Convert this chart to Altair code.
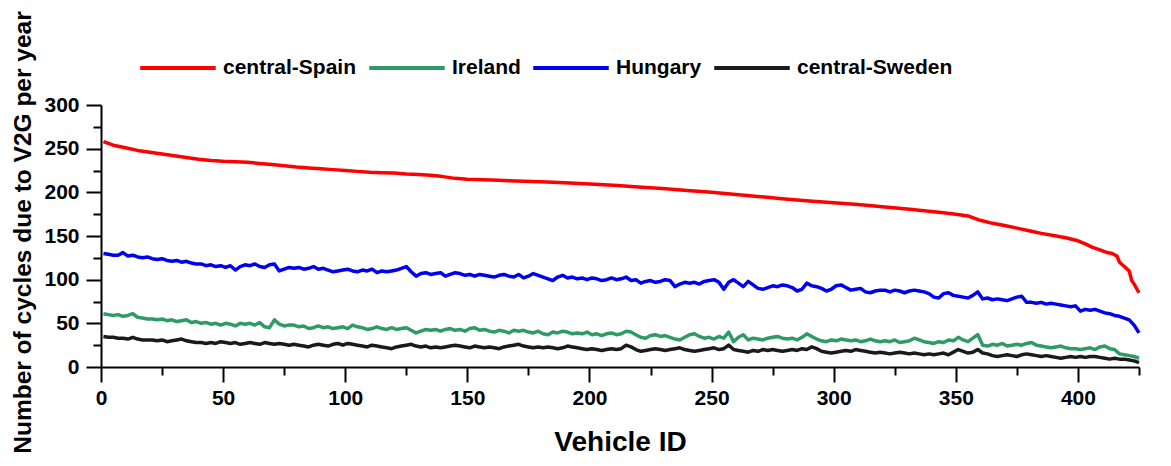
import altair as alt
import pandas as pd

series_names = ["central-Spain", "Ireland", "Hungary", "central-Sweden"]
series_colors = ["#ff0000", "#2e9a66", "#0000f0", "#1a1a1a"]

# central-Spain (smooth curve) sampled at these vehicle IDs
spain_ids = [1, 3, 5, 10, 15, 20, 25, 30, 35, 40, 45, 50, 55, 60, 65, 70, 75, 80, 85, 90,
             95, 100, 105, 110, 115, 120, 125, 130, 135, 140, 145, 150, 160, 170, 180, 190,
             200, 210, 220, 230, 240, 250, 260, 270, 280, 290, 300, 310, 320, 330, 340, 345,
             350, 355, 358, 360, 365, 370, 375, 380, 385, 390, 395, 400, 403, 406, 409, 412,
             414, 416, 417, 419, 421, 422, 423, 425]
spain = [258, 256, 254, 251, 248, 246, 244, 242, 240, 238, 236.5, 235.5, 235, 234.5, 233,
         232, 230.5, 229, 228, 227, 226, 225, 224, 223, 222.5, 222, 221, 220.5, 219.5, 218,
         216, 215, 214, 213, 212, 211, 209.5, 208, 206, 204.5, 202, 200, 197.5, 195, 192.5,
         190, 188, 186, 183.5, 181, 178, 176.5, 175, 173, 170, 168, 164.5, 162, 159, 156, 153,
         150.5, 148, 144.5, 141, 137, 134, 131, 130, 127, 120, 115, 110, 99, 95, 85]

# other series, every second vehicle ID (1, 3, 5, ..., 425)
noisy_ids = list(range(1, 426, 2))
hungary = [
    130, 129, 128, 128, 131, 127, 128, 126, 125, 126,
    124, 123, 124, 122, 121, 122, 120, 121, 119, 118,
    118, 116, 117, 115, 116, 114, 116, 111, 115, 117,
    116, 118, 115, 114, 117, 118, 110, 112, 114, 113,
    114, 112, 113, 115, 112, 113, 111, 109, 110, 111,
    112, 110, 109, 111, 110, 112, 108, 110, 109, 110,
    111, 113, 115, 109, 104, 107, 108, 106, 107, 108,
    104, 106, 108, 107, 105, 106, 104, 106, 105, 104,
    103, 105, 106, 104, 103, 106, 102, 104, 107, 105,
    103, 101, 99, 103, 105, 102, 103, 101, 102, 100,
    102, 101, 99, 100, 102, 100, 101, 103, 99, 100,
    96, 98, 99, 97, 98, 100, 99, 92, 95, 97,
    96, 97, 95, 98, 99, 100, 97, 89, 97, 100,
    96, 92, 98, 94, 90, 89, 91, 93, 92, 94,
    93, 91, 87, 89, 96, 93, 92, 90, 87, 89,
    93, 94, 91, 88, 89, 90, 86, 85, 87, 88,
    88, 86, 88, 87, 85, 87, 88, 87, 86, 84,
    80, 79, 84, 85, 82, 81, 80, 79, 82, 86,
    78, 79, 77, 78, 77, 76, 78, 80, 81, 74,
    74, 73, 74, 72, 73, 72, 71, 70, 69, 70,
    64, 66, 65, 66, 64, 62, 61, 59, 58, 56,
    54, 48, 39]
ireland = [
    61, 60, 59, 60, 58, 59, 61, 57, 56, 55,
    55, 54, 55, 53, 54, 52, 53, 54, 51, 52,
    50, 51, 49, 50, 48, 50, 49, 47, 50, 49,
    50, 48, 51, 46, 45, 54, 49, 47, 48, 48,
    46, 47, 44, 45, 47, 45, 46, 44, 45, 46,
    44, 48, 46, 45, 43, 44, 46, 44, 43, 45,
    43, 44, 45, 42, 39, 41, 43, 42, 43, 41,
    43, 44, 42, 43, 41, 44, 45, 42, 43, 41,
    40, 42, 41, 39, 42, 41, 42, 40, 39, 41,
    38, 37, 40, 39, 41, 40, 38, 39, 38, 40,
    37, 38, 36, 38, 39, 37, 38, 41, 40, 37,
    34, 33, 36, 37, 35, 36, 34, 32, 31, 34,
    37, 38, 35, 33, 34, 32, 35, 33, 40, 29,
    34, 37, 31, 33, 32, 31, 33, 34, 35, 33,
    32, 33, 31, 34, 38, 35, 32, 30, 29, 31,
    30, 32, 31, 30, 31, 29, 30, 32, 30, 29,
    30, 29, 31, 28, 29, 30, 33, 31, 29, 28,
    27, 29, 28, 31, 30, 34, 31, 29, 33, 37,
    25, 24, 26, 25, 27, 24, 25, 26, 25, 27,
    28, 25, 24, 23, 22, 23, 24, 22, 21, 21,
    20, 21, 22, 20, 23, 24, 21, 20, 15, 14,
    13, 12, 10]
sweden = [
    35, 34, 34, 33, 33, 32, 34, 32, 31, 31,
    31, 30, 31, 29, 30, 31, 32, 30, 29, 28,
    28, 27, 28, 27, 29, 28, 27, 28, 26, 27,
    28, 27, 26, 28, 27, 26, 27, 26, 25, 26,
    25, 24, 23, 25, 26, 25, 24, 26, 27, 25,
    27, 26, 25, 24, 23, 25, 24, 23, 22, 21,
    23, 24, 25, 26, 24, 23, 24, 22, 23, 22,
    23, 24, 25, 24, 23, 22, 24, 23, 22, 23,
    22, 21, 23, 24, 25, 26, 24, 23, 22, 23,
    22, 23, 22, 21, 22, 24, 23, 22, 21, 20,
    21, 20, 19, 20, 21, 20, 21, 25, 23, 20,
    18, 19, 20, 21, 20, 19, 20, 21, 22, 20,
    19, 18, 19, 20, 21, 22, 20, 21, 25, 20,
    19, 18, 17, 19, 18, 20, 19, 20, 19, 18,
    19, 20, 19, 21, 20, 23, 21, 18, 17, 16,
    17, 18, 19, 18, 20, 19, 18, 17, 16, 17,
    16, 15, 16, 17, 16, 15, 16, 15, 14, 15,
    14, 15, 16, 14, 17, 20, 18, 16, 17, 20,
    16, 15, 13, 12, 13, 14, 13, 12, 14, 15,
    14, 13, 12, 13, 12, 11, 10, 11, 12, 11,
    12, 11, 12, 12, 11, 10, 9, 10, 9, 9,
    8, 7, 5]

x_ticks = list(range(0, 426, 25))
y_ticks = list(range(0, 301, 25))

rows = []
for i, v in zip(spain_ids, spain):
    rows.append({"id": i, "val": v, "series": "central-Spain"})
for name, vals in [("Ireland", ireland), ("Hungary", hungary), ("central-Sweden", sweden)]:
    for i, v in zip(noisy_ids, vals):
        rows.append({"id": i, "val": v, "series": name})
df = pd.DataFrame(rows)

FONT = "Liberation Sans"

x_enc = alt.X(
    "id:Q",
    scale=alt.Scale(domain=[0, 425], nice=False, zero=False),
    axis=alt.Axis(
        values=x_ticks,
        labelExpr="datum.value % 50 === 0 ? datum.label : ''",
        tickSize={"condition": {"test": "datum.value % 50 === 0", "value": 15}, "value": 8},
        tickWidth=2, domainWidth=2, domainColor="black", tickColor="black",
        labelFont=FONT, labelFontSize=21, labelFontWeight="bold", labelColor="black",
        labelPadding=5, labelFlush=False, labelOverlap=False,
        grid=False,
        title="Vehicle ID", titleFont=FONT, titleFontSize=28, titleFontWeight="bold",
        titleColor="black", titleX=519, titleY=83, titleAnchor="middle",
        titleBaseline="alphabetic",
    ),
)
y_enc = alt.Y(
    "val:Q",
    scale=alt.Scale(domain=[0, 300], nice=False),
    axis=alt.Axis(
        values=y_ticks,
        labelExpr="datum.value % 50 === 0 ? datum.label : ''",
        tickSize={"condition": {"test": "datum.value % 50 === 0", "value": 15}, "value": 8},
        tickWidth=2, domainWidth=2, domainColor="black", tickColor="black",
        labelFont=FONT, labelFontSize=21, labelFontWeight="bold", labelColor="black",
        labelPadding=7, labelOverlap=False, labelFlush=False,
        grid=False,
        title="Number of cycles due to V2G per year", titleFont=FONT, titleFontSize=24.5,
        titleFontWeight="bold", titleColor="black", titleX=-71, titleY=127,
        titleAngle=270, titleAlign="center", titleBaseline="alphabetic",
    ),
)
color_enc = alt.Color(
    "series:N",
    scale=alt.Scale(domain=series_names, range=series_colors),
    legend=alt.Legend(
        title=None, orient="none", legendX=37, legendY=-77, direction="horizontal",
        columns=4, symbolType="stroke", symbolSize=5700, symbolStrokeWidth=4,
        labelFont=FONT, labelFontSize=21, labelFontWeight="bold", labelColor="black",
        labelOffset=5, columnPadding=4, labelLimit=400,
    ),
)

layers = []
for name in series_names:
    layers.append(
        alt.Chart(df)
        .transform_filter(alt.datum.series == name)
        .mark_line(strokeWidth=3.5, strokeJoin="round")
        .encode(x=x_enc, y=y_enc, color=color_enc, order="id:Q")
    )

chart = (
    alt.layer(*layers)
    .properties(
        width=1038, height=262,
        autosize=alt.AutoSizeParams(type="none"),
        padding={"left": 93, "top": 97, "right": 20, "bottom": 91},
        background="white",
    )
    .configure_view(stroke=None)
)

chart.save("out.html", embed_options={"renderer": "svg", "actions": False})
